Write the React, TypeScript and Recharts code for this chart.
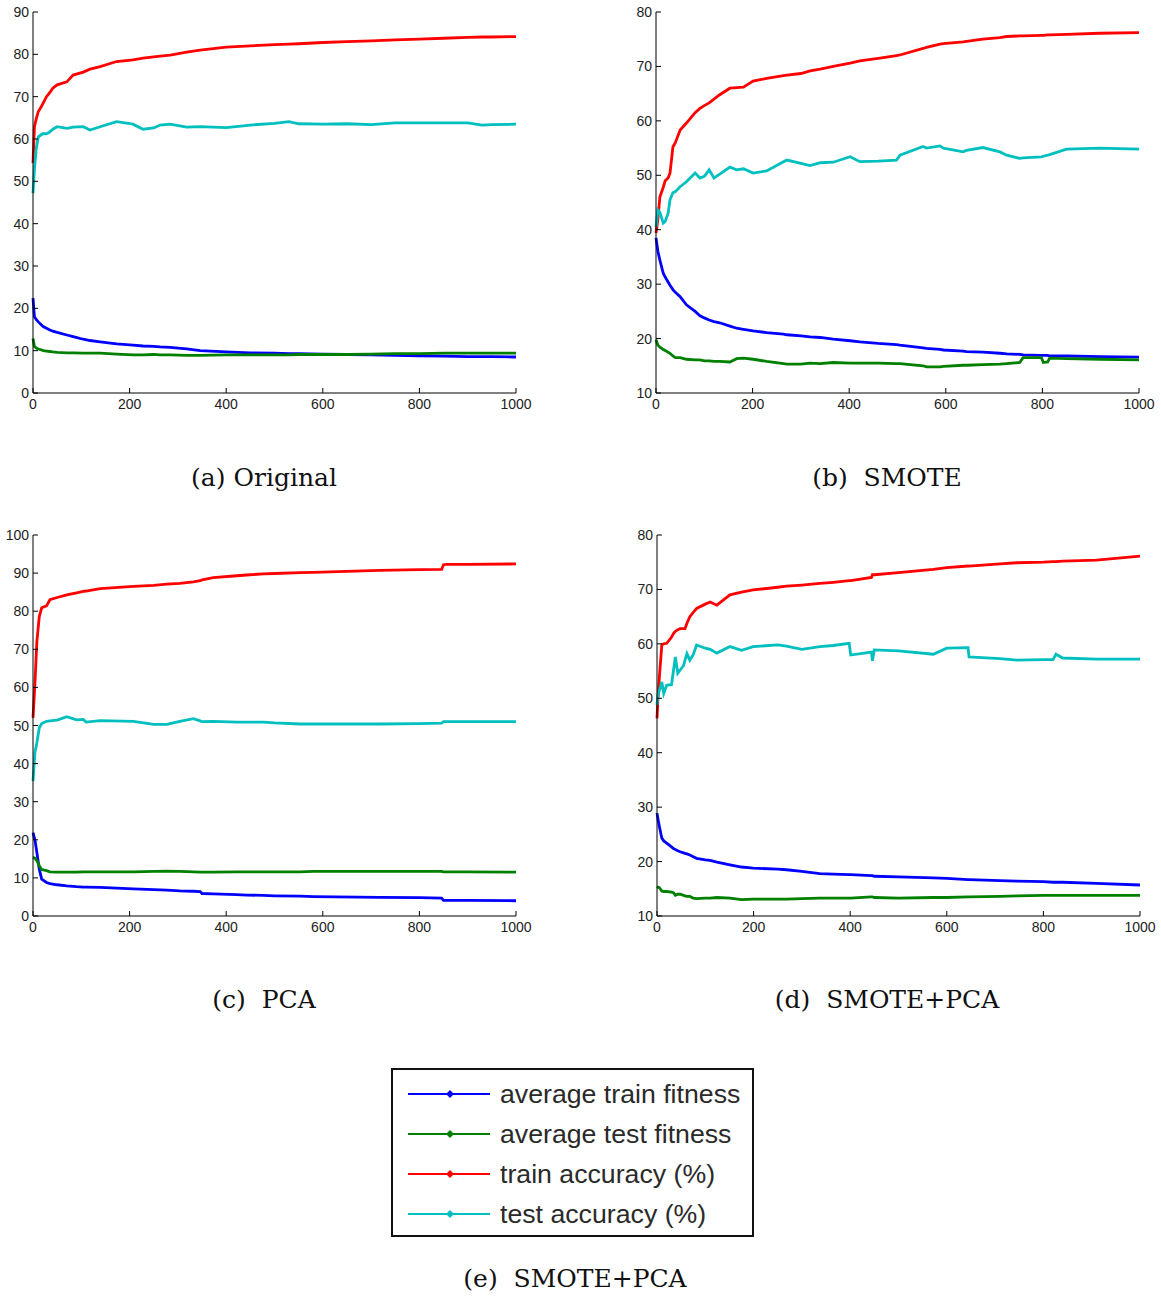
import React from 'react'
import { LineChart, Line, XAxis, YAxis } from 'recharts'

const X_TICKS = [0, 200, 400, 600, 800, 1000]

// (a) Original
const A_ITER = [0, 3, 7, 11, 17, 21, 28, 35, 41, 50, 70, 83, 104, 118, 139, 173, 207, 228, 250, 263, 284, 318, 346, 400, 450, 500, 530, 550, 600, 650, 700, 750, 800, 850, 900, 930, 950, 1000]
const A_TRAIN_FIT = [22.4, 18, 17.3, 16.8, 16.1, 15.7, 15.3, 14.9, 14.6, 14.3, 13.7, 13.3, 12.7, 12.4, 12.1, 11.6, 11.3, 11.1, 11.0, 10.9, 10.8, 10.4, 10.0, 9.7, 9.5, 9.4, 9.3, 9.3, 9.2, 9.1, 9.0, 8.9, 8.8, 8.7, 8.6, 8.6, 8.6, 8.5]
const A_TEST_FIT = [12.9, 11, 10.6, 10.4, 10.2, 10.0, 9.9, 9.8, 9.7, 9.6, 9.5, 9.5, 9.4, 9.4, 9.4, 9.2, 9.0, 9.0, 9.1, 9.0, 9.0, 8.9, 8.9, 9.0, 9.0, 9.0, 9.0, 9.1, 9.1, 9.1, 9.2, 9.3, 9.3, 9.4, 9.4, 9.4, 9.4, 9.4]
const A_TRAIN_ACC = [54.3, 62.9, 64.9, 66.5, 67.6, 68.5, 70, 71, 72, 72.8, 73.5, 75.1, 75.8, 76.5, 77.1, 78.3, 78.7, 79.1, 79.4, 79.6, 79.8, 80.5, 81, 81.7, 82, 82.3, 82.4, 82.5, 82.8, 83, 83.2, 83.4, 83.6, 83.8, 84, 84.1, 84.1, 84.2]
const A_TEST_ACC = [47.2, 53, 58, 60.5, 61, 61.3, 61.2, 61.7, 62.3, 62.9, 62.5, 62.8, 62.9, 62.1, 62.9, 64.1, 63.5, 62.3, 62.6, 63.3, 63.5, 62.8, 62.9, 62.7, 63.3, 63.7, 64.1, 63.6, 63.5, 63.6, 63.4, 63.8, 63.8, 63.8, 63.8, 63.3, 63.4, 63.5]

// (b) SMOTE
const B_ITER = [0, 4, 8, 15, 19, 25, 29, 35, 40, 50, 63, 81, 91, 100, 110, 120, 132, 153, 167, 181, 201, 229, 264, 271, 300, 319, 340, 367, 402, 422, 460, 498, 505, 553, 560, 588, 595, 636, 643, 677, 712, 726, 753, 760, 798, 802, 811, 815, 850, 919, 1000]
const B_TRAIN_FIT = [38.5, 36, 34.4, 32, 31.3, 30.4, 29.8, 29, 28.5, 27.7, 26.2, 25, 24.2, 23.8, 23.4, 23.1, 22.9, 22.3, 21.9, 21.7, 21.4, 21.1, 20.8, 20.7, 20.5, 20.3, 20.2, 19.9, 19.6, 19.4, 19.1, 18.9, 18.8, 18.3, 18.2, 18.0, 17.9, 17.7, 17.6, 17.5, 17.3, 17.2, 17.1, 17.0, 16.9, 16.9, 16.9, 16.8, 16.8, 16.7, 16.6]
const B_TEST_FIT = [19.8, 18.8, 18.4, 18.0, 17.8, 17.5, 17.3, 16.8, 16.5, 16.5, 16.2, 16.1, 16.1, 15.9, 15.9, 15.8, 15.8, 15.7, 16.3, 16.4, 16.2, 15.8, 15.4, 15.3, 15.3, 15.5, 15.4, 15.6, 15.5, 15.5, 15.5, 15.4, 15.4, 15.0, 14.8, 14.8, 14.9, 15.1, 15.1, 15.2, 15.3, 15.4, 15.6, 16.5, 16.5, 15.6, 15.7, 16.4, 16.3, 16.2, 16.1]
const B_TRAIN_ACC = [39.4, 42, 46, 47.8, 49, 49.5, 50.4, 55.2, 56, 58.3, 59.6, 61.5, 62.3, 62.8, 63.3, 64, 64.8, 66, 66.1, 66.2, 67.3, 67.8, 68.3, 68.4, 68.7, 69.2, 69.5, 70.0, 70.6, 71, 71.5, 72, 72.1, 73.3, 73.5, 74.1, 74.2, 74.5, 74.6, 75, 75.3, 75.5, 75.6, 75.6, 75.7, 75.7, 75.8, 75.8, 75.9, 76.1, 76.2]
const B_TEST_ACC = [40.5, 43.6, 43.2, 41.2, 41.5, 43, 45.5, 46.8, 47, 47.9, 48.8, 50.4, 49.5, 49.8, 51, 49.5, 50.2, 51.5, 51, 51.2, 50.4, 50.8, 52.5, 52.8, 52.2, 51.8, 52.3, 52.4, 53.4, 52.5, 52.6, 52.8, 53.7, 55.3, 55, 55.4, 55, 54.3, 54.6, 55.1, 54.3, 53.7, 53.1, 53.2, 53.4, 53.5, 53.7, 53.8, 54.8, 55, 54.8]

// (c) PCA
const C_ITER = [0, 4, 8, 13, 18, 28, 35, 50, 70, 90, 104, 110, 139, 208, 250, 277, 304, 332, 346, 350, 373, 422, 442, 477, 500, 553, 580, 718, 800, 846, 850, 856, 900, 1000]
const C_TRAIN_FIT = [21.9, 20, 16.7, 12.3, 9.7, 8.8, 8.5, 8.2, 7.9, 7.7, 7.6, 7.6, 7.5, 7.1, 6.9, 6.8, 6.6, 6.5, 6.4, 5.9, 5.8, 5.6, 5.5, 5.4, 5.3, 5.2, 5.1, 4.9, 4.8, 4.7, 4.1, 4.1, 4.1, 4.0]
const C_TEST_FIT = [15.4, 15.2, 14.5, 13.2, 12.2, 11.9, 11.6, 11.5, 11.5, 11.5, 11.6, 11.6, 11.6, 11.6, 11.7, 11.8, 11.7, 11.6, 11.5, 11.5, 11.5, 11.6, 11.6, 11.6, 11.6, 11.6, 11.7, 11.7, 11.7, 11.7, 11.6, 11.6, 11.6, 11.5]
const C_TRAIN_ACC = [52, 61, 72, 78.6, 80.9, 81.4, 83, 83.6, 84.3, 84.8, 85.2, 85.3, 85.9, 86.5, 86.8, 87.1, 87.3, 87.7, 88, 88.2, 88.8, 89.3, 89.5, 89.8, 89.9, 90.1, 90.2, 90.7, 90.9, 91, 92.2, 92.3, 92.3, 92.4]
const C_TEST_ACC = [35.4, 42.9, 45.5, 49.4, 50.5, 51.1, 51.2, 51.4, 52.3, 51.5, 51.6, 50.9, 51.3, 51.1, 50.3, 50.3, 51.1, 51.8, 51.2, 51.0, 51.1, 50.9, 50.9, 50.9, 50.7, 50.4, 50.4, 50.4, 50.5, 50.6, 51.0, 51.0, 51.0, 51.0]

// (d) SMOTE+PCA
const D_ITER = [0, 2, 5, 10, 14, 20, 30, 34, 38, 43, 48, 55, 58, 62, 68, 75, 82, 100, 110, 124, 151, 175, 199, 250, 268, 300, 337, 365, 398, 401, 444, 446, 450, 500, 572, 600, 644, 646, 710, 745, 800, 820, 826, 840, 910, 1000]
const D_TRAIN_FIT = [28.9, 27.8, 26.4, 24.3, 23.8, 23.4, 22.7, 22.4, 22.2, 22.0, 21.8, 21.6, 21.5, 21.4, 21.2, 20.9, 20.6, 20.3, 20.2, 19.9, 19.4, 19.0, 18.8, 18.6, 18.5, 18.2, 17.8, 17.7, 17.6, 17.6, 17.4, 17.4, 17.3, 17.2, 17.0, 16.9, 16.7, 16.7, 16.5, 16.4, 16.3, 16.2, 16.2, 16.2, 16.0, 15.7]
const D_TEST_FIT = [15.4, 15.3, 15.2, 14.6, 14.5, 14.5, 14.4, 14.3, 13.8, 14.0, 14.0, 13.8, 13.7, 13.6, 13.6, 13.3, 13.2, 13.3, 13.3, 13.4, 13.3, 13.0, 13.1, 13.1, 13.1, 13.2, 13.3, 13.3, 13.3, 13.3, 13.5, 13.5, 13.4, 13.3, 13.4, 13.4, 13.5, 13.5, 13.6, 13.7, 13.8, 13.8, 13.8, 13.8, 13.8, 13.8]
const D_TRAIN_ACC = [46.3, 50, 54, 59.8, 60, 60.1, 61.2, 61.9, 62.3, 62.6, 62.8, 62.8, 62.8, 63.8, 65, 65.8, 66.5, 67.3, 67.7, 67.1, 69, 69.5, 69.9, 70.4, 70.6, 70.8, 71.1, 71.3, 71.6, 71.6, 72.2, 72.7, 72.7, 73.1, 73.7, 74, 74.3, 74.3, 74.7, 74.9, 75.0, 75.1, 75.1, 75.2, 75.4, 76.1]
const D_TEST_ACC = [48.8, 50.5, 51.5, 53, 50.9, 52.4, 52.5, 55, 57.6, 54.6, 55.2, 56, 57, 58.2, 57, 58, 59.8, 59.2, 59, 58.3, 59.5, 58.8, 59.5, 59.8, 59.6, 59, 59.5, 59.7, 60.1, 57.95, 58.5, 56.9, 58.9, 58.7, 58.1, 59.2, 59.3, 57.6, 57.3, 57, 57.1, 57.1, 58.1, 57.4, 57.2, 57.2]

const SERIES = [
  { key: 'trainFit', name: 'average train fitness', color: '#0000ff' },
  { key: 'testFit', name: 'average test fitness', color: '#008000' },
  { key: 'trainAcc', name: 'train accuracy (%)', color: '#ff0000' },
  { key: 'testAcc', name: 'test accuracy (%)', color: '#00bfbf' },
]

const TICK_FONT = { fontFamily: '"Liberation Sans", Arial, sans-serif', fontSize: 14, fill: '#222' }
const TICK_LEN = 5
const MARGIN_Y = 4
const MARGIN_X = 6

const LeftTick = ({ x, y, payload }: any) => {
  const ax = x + MARGIN_Y
  return (
    <g>
      <line x1={ax} x2={ax + TICK_LEN} y1={y} y2={y} stroke="#000" />
      <text x={x} y={y} dy="0.36em" textAnchor="end" {...TICK_FONT}>{payload.value}</text>
    </g>
  )
}

const BottomTick = ({ x, y, payload }: any) => {
  const ay = y - MARGIN_X
  return (
    <g>
      <line x1={x} x2={x} y1={ay} y2={ay - TICK_LEN} stroke="#000" />
      <text x={x} y={y} dy="0.71em" textAnchor="middle" {...TICK_FONT}>{payload.value}</text>
    </g>
  )
}

interface PanelProps {
  iter: number[]
  trainFit: number[]
  testFit: number[]
  trainAcc: number[]
  testAcc: number[]
  yDomain: [number, number]
  yTicks: number[]
  left: number
  top: number
}

function Panel({ iter, trainFit, testFit, trainAcc, testAcc, yDomain, yTicks, left, top }: PanelProps) {
  const data = iter.map((it, i) => ({
    it,
    trainFit: trainFit[i],
    testFit: testFit[i],
    trainAcc: trainAcc[i],
    testAcc: testAcc[i],
  }))
  return (
    <div style={{ position: 'absolute', left, top }}>
      <LineChart width={536} height={423} data={data} margin={{ top: 12, right: 20, bottom: 0, left: 0 }}>
        <XAxis
          xAxisId="b" dataKey="it" type="number" domain={[0, 1000]} ticks={X_TICKS} interval={0}
          height={30} tickSize={0} tickMargin={MARGIN_X} tick={<BottomTick />}
          axisLine={{ stroke: '#000' }} tickLine={false}
        />
        <XAxis
          xAxisId="t" orientation="top" type="number" domain={[0, 1000]} ticks={X_TICKS} interval={0}
          height={0} mirror tick={false} tickSize={TICK_LEN} allowDataOverflow
          axisLine={{ stroke: '#000' }} tickLine={{ stroke: '#000' }}
        />
        <YAxis
          yAxisId="l" type="number" domain={yDomain} ticks={yTicks} interval={0}
          width={33} tickSize={0} tickMargin={MARGIN_Y} tick={<LeftTick />}
          axisLine={{ stroke: '#000' }} tickLine={false}
        />
        <YAxis
          yAxisId="r" orientation="right" type="number" domain={yDomain} ticks={yTicks} interval={0}
          width={0} mirror tick={false} tickSize={TICK_LEN} allowDataOverflow
          axisLine={{ stroke: '#000' }} tickLine={{ stroke: '#000' }}
        />
        {SERIES.map((s) => (
          <Line
            key={s.key}
            xAxisId="b"
            yAxisId="l"
            dataKey={s.key}
            type="linear"
            stroke={s.color}
            strokeWidth={2.8}
            dot={false}
            isAnimationActive={false}
          />
        ))}
      </LineChart>
    </div>
  )
}

const captionStyle = (cx: number, cy: number): React.CSSProperties => ({
  position: 'absolute',
  left: cx - 200,
  top: cy - 16,
  width: 400,
  height: 32,
  lineHeight: '32px',
  textAlign: 'center',
  fontFamily: '"DejaVu Serif", serif',
  fontSize: 25,
  color: '#111',
  whiteSpace: 'pre',
})

function LegendBox() {
  return (
    <div style={{
      position: 'absolute', left: 391, top: 1068, width: 363, height: 169,
      boxSizing: 'border-box', border: '2px solid #111', background: '#fff',
    }}>
      {SERIES.map((s, i) => (
        <div key={s.key} style={{ position: 'absolute', left: 0, top: 4 + i * 40, width: 359, height: 40 }}>
          <svg width={84} height={40} style={{ position: 'absolute', left: 15, top: 0 }}>
            <line x1={0} x2={82} y1={20} y2={20} stroke={s.color} strokeWidth={2} />
            <polygon points="42,16 46,20 42,24 38,20" fill={s.color} />
          </svg>
          <div style={{
            position: 'absolute', left: 107, top: 0, height: 40, lineHeight: '40px',
            fontFamily: '"Liberation Sans", Arial, sans-serif', fontSize: 26.7, color: '#2a2a2a', whiteSpace: 'nowrap',
          }}>{s.name}</div>
        </div>
      ))}
    </div>
  )
}

export default function App() {
  return (
    <div style={{ position: 'absolute', left: 0, top: 0, width: 1161, height: 1296, background: '#fff' }}>
      <Panel iter={A_ITER} trainFit={A_TRAIN_FIT} testFit={A_TEST_FIT} trainAcc={A_TRAIN_ACC} testAcc={A_TEST_ACC}
        yDomain={[0, 90]} yTicks={[0, 10, 20, 30, 40, 50, 60, 70, 80, 90]} left={0} top={0} />
      <Panel iter={B_ITER} trainFit={B_TRAIN_FIT} testFit={B_TEST_FIT} trainAcc={B_TRAIN_ACC} testAcc={B_TEST_ACC}
        yDomain={[10, 80]} yTicks={[10, 20, 30, 40, 50, 60, 70, 80]} left={623} top={0} />
      <Panel iter={C_ITER} trainFit={C_TRAIN_FIT} testFit={C_TEST_FIT} trainAcc={C_TRAIN_ACC} testAcc={C_TEST_ACC}
        yDomain={[0, 100]} yTicks={[0, 10, 20, 30, 40, 50, 60, 70, 80, 90, 100]} left={0} top={523} />
      <Panel iter={D_ITER} trainFit={D_TRAIN_FIT} testFit={D_TEST_FIT} trainAcc={D_TRAIN_ACC} testAcc={D_TEST_ACC}
        yDomain={[10, 80]} yTicks={[10, 20, 30, 40, 50, 60, 70, 80]} left={624} top={523} />

      <div style={captionStyle(264, 478)}>(a) Original</div>
      <div style={captionStyle(887, 478)}>(b)  SMOTE</div>
      <div style={captionStyle(264, 1000)}>(c)  PCA</div>
      <div style={captionStyle(887, 1000)}>(d)  SMOTE+PCA</div>
      <LegendBox />
      <div style={captionStyle(575, 1279)}>(e)  SMOTE+PCA</div>
    </div>
  )
}
